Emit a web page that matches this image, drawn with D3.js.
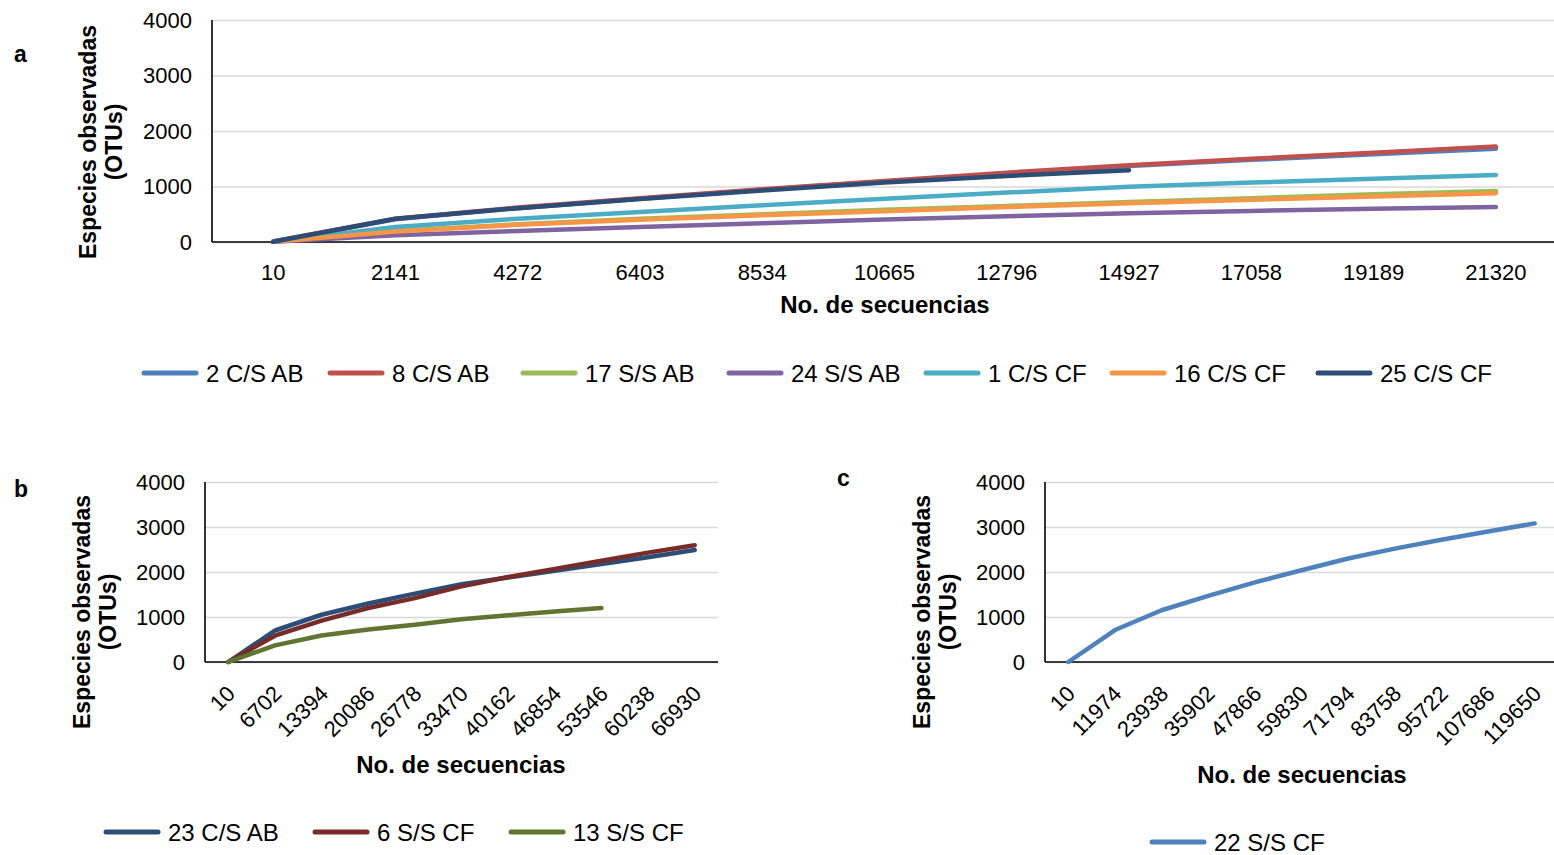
<!DOCTYPE html>
<html>
<head>
<meta charset="utf-8">
<script src="https://cdn.jsdelivr.net/npm/d3@7/dist/d3.min.js"></script>
<style>
  html, body { margin: 0; padding: 0; background: #fff; }
  svg { display: block; font-family: "Liberation Sans", Arial, sans-serif; }
</style>
</head>
<body>
<svg id="chart" width="1554" height="855"></svg>
<script>
// ---- Panel a: rarefaction curves, 7 samples ----
const catsA = ["10","2141","4272","6403","8534","10665","12796","14927","17058","19189","21320"];
const s2CSAB  = [10, 410, 610, 780, 940, 1090, 1235, 1370, 1480, 1580, 1680];
const s8CSAB  = [10, 420, 620, 790, 950, 1100, 1250, 1385, 1500, 1610, 1720];
const s17SSAB = [5, 200, 320, 420, 500, 580, 650, 720, 790, 860, 920];
const s24SSAB = [3, 120, 200, 270, 340, 405, 465, 520, 560, 600, 630];
const s1CSCF  = [5, 270, 420, 540, 660, 780, 890, 995, 1070, 1140, 1205];
const s16CSCF = [5, 190, 310, 400, 480, 555, 630, 700, 760, 820, 880];
const s25CSCF = [5, 420, 610, 775, 930, 1070, 1190, 1295];

// ---- Panel b ----
const catsB = ["10","6702","13394","20086","26778","33470","40162","46854","53546","60238","66930"];
const s23CSAB = [0, 700, 1050, 1300, 1520, 1730, 1880, 2030, 2180, 2330, 2490];
const s6SSCF  = [0, 585, 920, 1200, 1420, 1680, 1890, 2070, 2250, 2430, 2595];
const s13SSCF = [0, 370, 590, 720, 830, 950, 1040, 1120, 1200];

// ---- Panel c ----
const catsC = ["10","11974","23938","35902","47866","59830","71794","83758","95722","107686","119650"];
const s22SSCF = [0, 710, 1150, 1470, 1770, 2040, 2300, 2520, 2715, 2900, 3080];

const yTicks = [0, 1000, 2000, 3000, 4000];

const panels = [
  {
    letter: "a", letterPos: [14, 62], titleX: 885,
    cats: catsA, x0: 212, x1: 1557, yTop: 20, yBot: 242,
    rotate: false, titleY: 313, titleAxisY: 142, yTitleX: 98,
    series: [
      { name: "2 C/S AB",  values: s2CSAB,  color: "#4F81BD" },
      { name: "8 C/S AB",  values: s8CSAB,  color: "#C0504D" },
      { name: "17 S/S AB", values: s17SSAB, color: "#9BBB59" },
      { name: "24 S/S AB", values: s24SSAB, color: "#8064A2" },
      { name: "1 C/S CF",  values: s1CSCF,  color: "#4BACC6" },
      { name: "16 C/S CF", values: s16CSCF, color: "#F79646" },
      { name: "25 C/S CF", values: s25CSCF, color: "#2C4D75" }
    ],
    legend: { y: 373, xs: [142, 328, 521, 727, 924, 1110, 1316] }
  },
  {
    letter: "b", letterPos: [14, 497], titleX: 461,
    cats: catsB, x0: 205, x1: 718, yTop: 482, yBot: 662,
    rotate: true, titleY: 773, titleAxisY: 612, yTitleX: 92,
    series: [
      { name: "23 C/S AB", values: s23CSAB, color: "#2C4D75" },
      { name: "6 S/S CF",  values: s6SSCF,  color: "#772C2A" },
      { name: "13 S/S CF", values: s13SSCF, color: "#5F7530" }
    ],
    legend: { y: 832, xs: [104, 313, 509] }
  },
  {
    letter: "c", letterPos: [837, 486], titleX: 1302,
    cats: catsC, x0: 1045, x1: 1558, yTop: 482, yBot: 662,
    rotate: true, titleY: 783, titleAxisY: 612, yTitleX: 932,
    series: [
      { name: "22 S/S CF", values: s22SSCF, color: "#4F81BD" }
    ],
    legend: { y: 842, xs: [1150] }
  }
];

const svg = d3.select("#chart");

panels.forEach(p => {
  const g = svg.append("g");
  const x = d3.scaleBand().domain(p.cats).range([p.x0, p.x1]);
  const xc = c => x(c) + x.bandwidth() / 2;
  const y = d3.scaleLinear().domain([0, 4000]).range([p.yBot, p.yTop]);

  // horizontal gridlines
  g.append("g")
    .attr("transform", `translate(${p.x0},0)`)
    .call(d3.axisLeft(y).tickValues(yTicks).tickSize(-(p.x1 - p.x0)).tickFormat(""))
    .call(a => a.select(".domain").remove())
    .call(a => a.selectAll("line").attr("stroke", "#D9D9D9").attr("stroke-width", 1.3));

  // y tick labels
  g.append("g")
    .attr("transform", `translate(${p.x0},0)`)
    .call(d3.axisLeft(y).tickValues(yTicks).tickSize(0).tickPadding(20).tickFormat(d3.format("d")))
    .call(a => a.select(".domain").remove())
    .call(a => a.selectAll("text").attr("font-size", 22).attr("fill", "#000")
      .attr("font-family", "Liberation Sans, Arial, sans-serif"));

  // axis lines
  g.append("line").attr("x1", p.x0).attr("x2", p.x0).attr("y1", p.yTop).attr("y2", p.yBot)
    .attr("stroke", "#000").attr("stroke-width", 1.6);
  g.append("line").attr("x1", p.x0).attr("x2", p.x1).attr("y1", p.yBot).attr("y2", p.yBot)
    .attr("stroke", "#000").attr("stroke-width", 1.6);

  // x tick labels
  const xa = g.append("g")
    .attr("transform", `translate(0,${p.yBot})`)
    .call(d3.axisBottom(x).tickSize(0).tickPadding(22))
    .call(a => a.select(".domain").remove());
  xa.selectAll("text").attr("fill", "#000").attr("font-family", "Liberation Sans, Arial, sans-serif");
  if (p.rotate) {
    xa.selectAll("text")
      .attr("font-size", 22)
      .attr("text-anchor", "end")
      .attr("dy", 0)
      .attr("y", 0)
      .attr("transform", "translate(8,33) rotate(-45)");
  } else {
    xa.selectAll("text").attr("font-size", 22).attr("dy", "0.71em");
  }

  // series lines
  const line = d3.line().x((d, i) => xc(p.cats[i])).y(d => y(d));
  g.append("g").selectAll("path")
    .data(p.series)
    .join("path")
    .attr("d", s => line(s.values))
    .attr("fill", "none")
    .attr("stroke", s => s.color)
    .attr("stroke-width", 4.5)
    .attr("stroke-linejoin", "round")
    .attr("stroke-linecap", "round");

  // axis titles
  g.append("text")
    .attr("x", p.titleX)
    .attr("y", p.titleY)
    .attr("text-anchor", "middle")
    .attr("font-size", 24).attr("font-weight", "bold")
    .text("No. de secuencias");

  const yt = g.append("text")
    .attr("transform", `translate(${p.yTitleX},${p.titleAxisY}) rotate(-90)`)
    .attr("text-anchor", "middle")
    .attr("font-size", 23).attr("font-weight", "bold");
  yt.append("tspan").attr("x", 0).attr("dy", -2).text("Especies observadas");
  yt.append("tspan").attr("x", 0).attr("dy", 26).text("(OTUs)");

  // panel letter
  g.append("text")
    .attr("x", p.letterPos[0]).attr("y", p.letterPos[1])
    .attr("font-size", 23).attr("font-weight", "bold")
    .text(p.letter);

  // legend
  const lg = g.append("g");
  p.series.forEach((s, i) => {
    const lx = p.legend.xs[i];
    lg.append("line")
      .attr("x1", lx + 2).attr("x2", lx + 54)
      .attr("y1", p.legend.y).attr("y2", p.legend.y)
      .attr("stroke", s.color).attr("stroke-width", 5).attr("stroke-linecap", "round");
    lg.append("text")
      .attr("x", lx + 64).attr("y", p.legend.y)
      .attr("dy", "0.36em")
      .attr("font-size", 24)
      .text(s.name);
  });
});
</script>
</body>
</html>
